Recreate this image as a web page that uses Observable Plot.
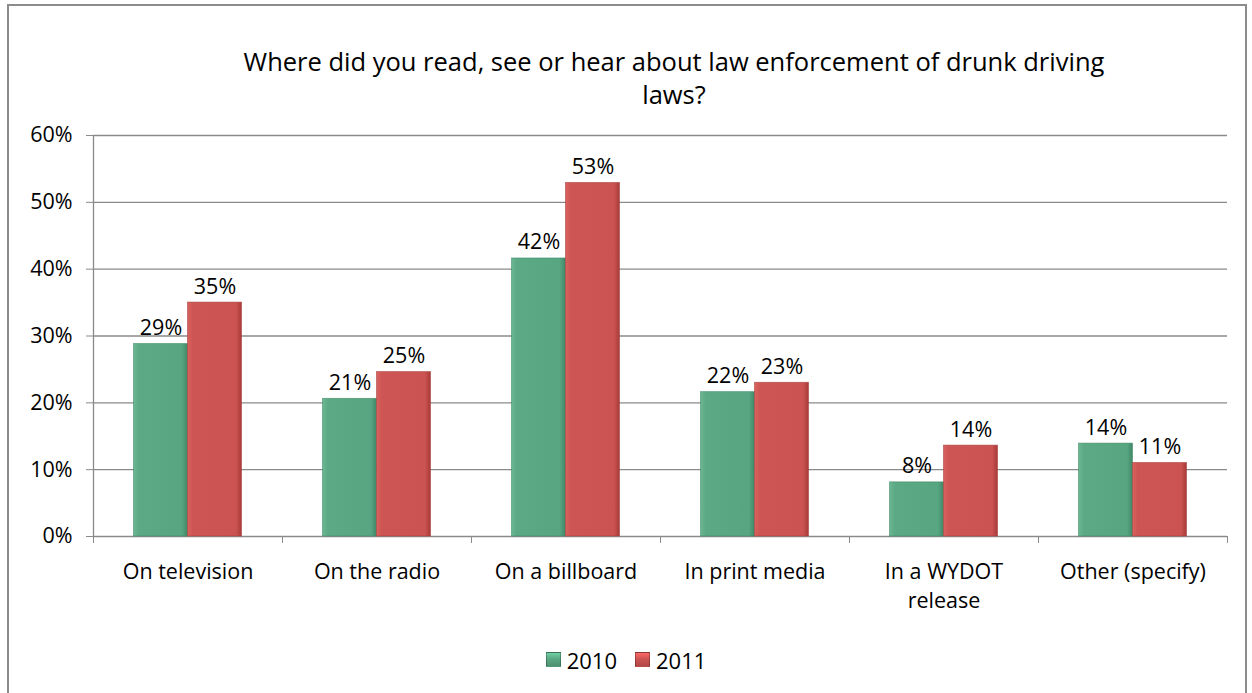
<!DOCTYPE html>
<html>
<head>
<meta charset="utf-8">
<script src="https://cdn.jsdelivr.net/npm/d3@7"></script>
<script src="https://cdn.jsdelivr.net/npm/@observablehq/plot@0.6"></script>
<style>
  html, body { margin: 0; padding: 0; background: #fff; width: 1252px; height: 693px; overflow: hidden; }
  body { font-family: "Open Sans", Lato, sans-serif; position: relative; }
  #box { position: absolute; left: 7px; top: 4px; width: 1240px; height: 700px; border: 2px solid #8c8c8c; box-sizing: border-box; }
  #title { position: absolute; left: 96px; width: 1156px; top: 45px; text-align: center; font-size: 25.5px; line-height: 33px; color: #000; }
  #chart { position: absolute; left: 0; top: 120px; }
  #legend { position: absolute; left: 0; width: 1252px; top: 643px; text-align: center; font-size: 22px; color: #000; }
  #legend span.item { display: inline-flex; align-items: center; margin: 0 9px; }
  #legend span.sw { display: inline-block; width: 15px; height: 15px; margin-right: 6px; border: 1px solid rgba(0,0,0,0.25); box-sizing: border-box; }
</style>
</head>
<body>
<svg width="0" height="0" style="position:absolute">
  <defs>
    <linearGradient id="g2010" x1="0" x2="1" y1="0" y2="0">
      <stop offset="0" stop-color="#6cb794"/>
      <stop offset="0.1" stop-color="#5ba985"/>
      <stop offset="0.9" stop-color="#58a582"/>
      <stop offset="1" stop-color="#3f8766"/>
    </linearGradient>
    <linearGradient id="g2011" x1="0" x2="1" y1="0" y2="0">
      <stop offset="0" stop-color="#d9625f"/>
      <stop offset="0.1" stop-color="#cd5553"/>
      <stop offset="0.9" stop-color="#cb5351"/>
      <stop offset="1" stop-color="#a73a38"/>
    </linearGradient>
  </defs>
</svg>
<div id="box"></div>
<div id="title">Where did you read, see or hear about law enforcement of drunk driving<br>laws?</div>
<div id="chart"></div>
<div id="legend"></div>
<script>
const categories = ["On television", "On the radio", "On a billboard", "In print media", "In a WYDOT\nrelease", "Other (specify)"];
const years = ["2010", "2011"];
const values2010 = [28.8, 20.6, 41.6, 21.6, 8.1, 13.9];
const values2011 = [35.0, 24.6, 52.9, 23.0, 13.6, 11.0];
const yTicks = [0, 10, 20, 30, 40, 50, 60];
const colors = {"2010": "#5aa884", "2011": "#cd5452"};
const gradients = {"2010": "url(#g2010)", "2011": "url(#g2011)"};

// Category slot layout (fractions of a category slot, Excel gap width)
const gapFrac = 0.2143;
const rows = [];
categories.forEach((c, i) => {
  rows.push({cat: c, i, year: "2010", value: values2010[i], x1: i + gapFrac, x2: i + 0.5});
  rows.push({cat: c, i, year: "2011", value: values2011[i], x1: i + 0.5, x2: i + 1 - gapFrac});
});
const boundaries = categories.map((c, i) => i).concat([categories.length]);

const gray = "#8a8a8a";
const font = "'Open Sans', Lato, sans-serif";
const chart = Plot.plot({
  width: 1252,
  height: 500,
  marginTop: 15,
  marginBottom: 84,
  marginLeft: 93,
  marginRight: 25,
  style: {fontFamily: font, color: "#000", background: "transparent"},
  x: {domain: [0, categories.length], axis: null},
  y: {domain: [0, 60], axis: null},
  marks: [
    Plot.ruleY(yTicks, {stroke: gray, strokeWidth: 1.3}),
    Plot.axisY({ticks: yTicks, tickSize: 7, tickPadding: 14, stroke: gray, fontSize: 21.5, label: null, tickFormat: d => d + "%"}),
    Plot.ruleX([0], {y1: 0, y2: 60, stroke: gray, strokeWidth: 1.3}),
    Plot.axisX({ticks: boundaries, tickSize: 7, stroke: gray, label: null, tickFormat: () => ""}),
    Plot.rectY(rows, {x1: "x1", x2: "x2", y1: 0, y2: "value", fill: d => gradients[d.year], stroke: d => d.year === "2010" ? "#3f8a67" : "#a8403e", strokeWidth: 0.8, strokeOpacity: 0.7}),
    Plot.text(rows, {x: d => (d.x1 + d.x2) / 2, y: "value", text: d => Math.round(d.value) + "%", dy: -9, lineAnchor: "bottom", fontSize: 21.5, fill: "#000"}),
    Plot.text(categories, {x: (d, i) => i + 0.5, y: 0, text: d => d, dy: 22, lineAnchor: "top", lineHeight: 1.35, fontSize: 21.5, fill: "#000"})
  ]
});
document.getElementById("chart").appendChild(chart);

const legend = document.getElementById("legend");
years.forEach(y => {
  const item = document.createElement("span");
  item.className = "item";
  const sw = document.createElement("span");
  sw.className = "sw";
  sw.style.background = `linear-gradient(180deg, ${d3.color(colors[y]).brighter(0.6)} 0%, ${colors[y]} 45%, ${d3.color(colors[y]).darker(0.4)} 100%)`;
  item.appendChild(sw);
  item.appendChild(document.createTextNode(y));
  legend.appendChild(item);
});
</script>
</body>
</html>
